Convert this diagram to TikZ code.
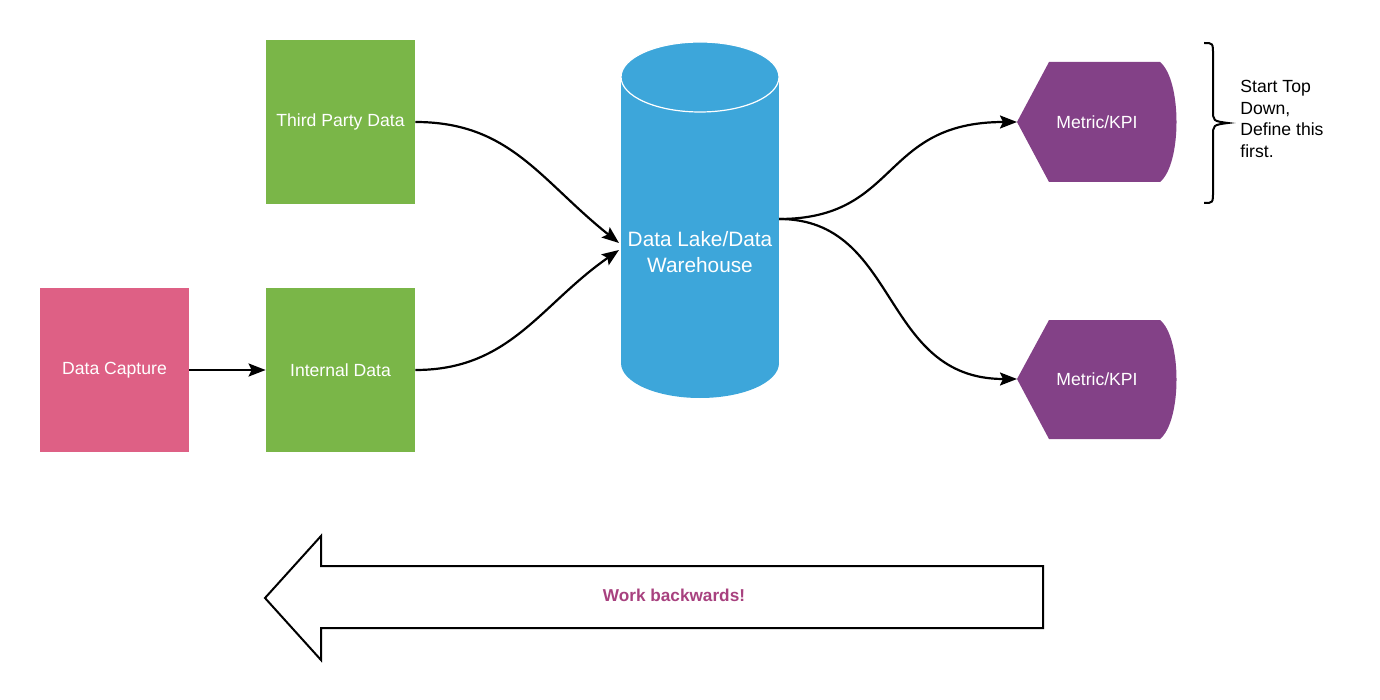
\documentclass[tikz,border=0pt]{standalone}
\usepackage{fontspec}
\setmainfont{Liberation Sans}
\usetikzlibrary{arrows.meta}
\definecolor{boxgreen}{HTML}{7AB648}
\definecolor{boxpink}{HTML}{DE6085}
\definecolor{kpipurple}{HTML}{834187}
\definecolor{lakeblue}{HTML}{3DA6DA}
\definecolor{worktext}{HTML}{A8417F}
\tikzset{
  sq/.style={minimum width=74.5pt,minimum height=82pt,inner sep=0pt,text=white,font=\fontsize{8.8}{10.5}\selectfont},
  kpitext/.style={inner sep=0pt,minimum width=80pt,minimum height=60pt,text=white,font=\fontsize{8.8}{10.5}\selectfont},
  conn/.style={line width=1.1pt,-{Stealth[length=8.5pt,width=6.5pt,inset=1.5pt]}},
}
\begin{document}
\begin{tikzpicture}[x=0.5pt,y=-0.5pt]
\useasboundingbox (0,0) rectangle (1380,700);
% boxes
\node[sq,fill=boxgreen] (tp) at (340.5,122) {Third Party Data};
\node[sq,fill=boxgreen] (id) at (340.5,370) {Internal Data};
\node[sq,fill=boxpink] (dc) at (114.5,370) {Data Capture};
% cylinder
\fill[lakeblue] (621,77) rectangle (779,363);
\fill[lakeblue] (700,363) ellipse[x radius=79,y radius=35];
\filldraw[fill=lakeblue,draw=white,line width=0.6pt] (700,77) ellipse[x radius=79,y radius=35];
\node[text=white,align=center,font=\fontsize{10.4}{13}\selectfont] (dl) at (700,252) {Data Lake/Data\\Warehouse};
\coordinate (dlin1) at (619,243);
\coordinate (dlin2) at (619,250);
\coordinate (dlout) at (779,219);
% KPI shapes
\fill[kpipurple] (1017,122) -- (1049,62) -- (1160,62) .. controls (1182,80) and (1182,164) .. (1160,182) -- (1049,182) -- cycle;
\node[kpitext] (k1) at (1097,122) {Metric/KPI};
\coordinate (k1in) at (1017,122);
\fill[kpipurple] (1017,379) -- (1049,320) -- (1160,320) .. controls (1182,338) and (1182,421) .. (1160,439) -- (1049,439) -- cycle;
\node[kpitext] (k2) at (1097,379) {Metric/KPI};
\coordinate (k2in) at (1017,379);
% connectors
\draw[conn] (dc.east) -- (id.west);
\draw[conn] (tp.east) .. controls (510,122) and (540,180) .. (dlin1);
\draw[conn] (id.east) .. controls (510,370) and (540,305) .. (dlin2);
\draw[conn] (dlout) .. controls (900,219) and (880,122) .. (k1in);
\draw[conn] (dlout) .. controls (900,219) and (880,379) .. (k2in);
% brace
\draw[line width=1pt] (1204,43) .. controls (1213,43) .. (1213,55) -- (1213,110) .. controls (1213,121) .. (1228,123) .. controls (1213,125) .. (1213,136) -- (1213,191) .. controls (1213,203) .. (1204,203);
\node[anchor=north west,align=left,inner sep=0pt,font=\fontsize{8.8}{10.75}\selectfont] (note) at (1240,80) {Start Top\\Down,\\Define this\\first.};
% big arrow
\draw[line width=1pt,fill=white] (265,598) -- (321,536) -- (321,566) -- (1043,566) -- (1043,628) -- (321,628) -- (321,660) -- cycle;
\node[text=worktext,font=\bfseries\fontsize{8.6}{10}\selectfont] (wb) at (674,595) {Work backwards!};
\end{tikzpicture}
\end{document}
